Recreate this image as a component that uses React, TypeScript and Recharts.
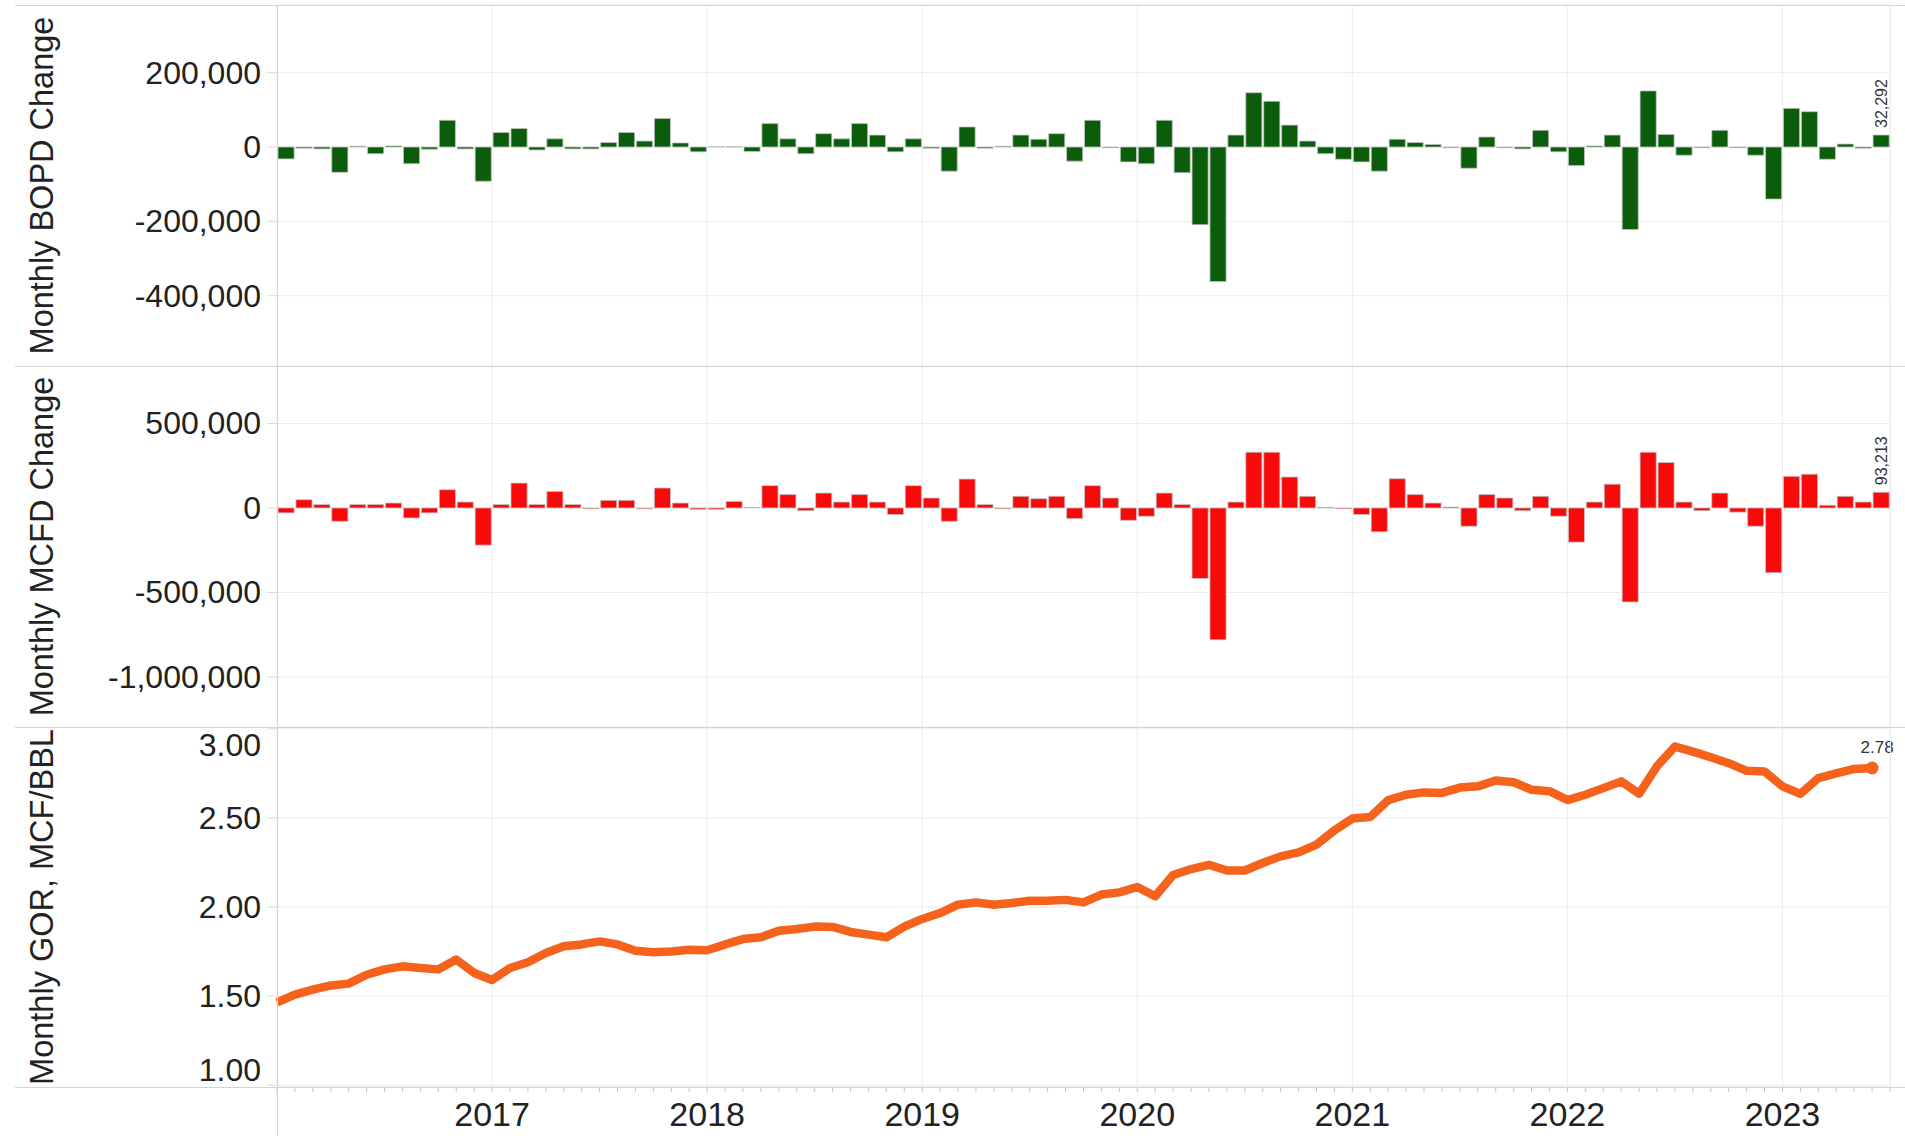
import React from 'react';
import { BarChart, Bar, LineChart, Line, XAxis, YAxis, CartesianGrid, LabelList } from 'recharts';

const FONT = 'Arial, "Liberation Sans", sans-serif';
const WIDTH = 1905;
const AXIS_W = 277;
const RIGHT = 15;
const MONTHS = 90; // Jan 2016 .. Jun 2023

const yearLabels = ['2017', '2018', '2019', '2020', '2021', '2022', '2023'];

const bopdTicks = [-400000, -200000, 0, 200000];
const mcfdTicks = [-1000000, -500000, 0, 500000];
const gorTicks = [1, 1.5, 2, 2.5, 3];

// monthly change in oil rate, barrels per day
const bopdChange = [
  -32000, -3000, -5000, -68000, 2000, -18000, 3000, -45000, -6000, 72000, -5000, -92000,
  39000, 50000, -8000, 22000, -5000, -5000, 12000, 39000, 16000, 77000, 11000, -13000,
  1000, 500, -12000, 63000, 22000, -18000, 36000, 22000, 63000, 32000, -13000, 22000,
  -3000, -65000, 54000, -3000, 2000, 32000, 21000, 36000, -38000, 72000, -2000, -40000,
  -45000, 72000, -69000, -209000, -362000, 32000, 146000, 123000, 59000, 16000, -18000, -33000,
  -40000, -65000, 21000, 12000, 7000, -2000, -57000, 27000, -2000, -5000, 45000, -13000,
  -50000, 3000, 32000, -222000, 151000, 34000, -22000, -2000, 45000, -2000, -22000, -140000,
  104000, 95000, -33000, 8000, -3000, 32292,
];

// monthly change in gas rate, mcf per day
const mcfdChange = [
  -29000, 49000, 20000, -79000, 20000, 20000, 29000, -59000, -29000, 108000, 35000, -220000,
  20000, 147000, 20000, 98000, 20000, -5000, 45000, 45000, -5000, 118000, 29000, -8000,
  -8000, 39000, 3000, 132000, 79000, -16000, 88000, 35000, 79000, 35000, -39000, 132000,
  59000, -79000, 171000, 20000, -5000, 69000, 55000, 69000, -63000, 132000, 59000, -73000,
  -49000, 88000, 20000, -417000, -780000, 35000, 330000, 330000, 183000, 69000, 4000, -5000,
  -39000, -141000, 173000, 79000, 29000, 5000, -108000, 79000, 59000, -16000, 69000, -49000,
  -202000, 35000, 141000, -556000, 330000, 269000, 35000, -16000, 88000, -25000, -108000, -383000,
  187000, 200000, 16000, 69000, 35000, 93213,
];

// gas-oil ratio, mcf/bbl
const gorMonthly = [
  1.465, 1.508, 1.536, 1.56, 1.57, 1.62, 1.65, 1.667, 1.658, 1.65, 1.705, 1.63,
  1.59, 1.658, 1.69, 1.742, 1.78, 1.79, 1.807, 1.79, 1.755, 1.746, 1.75, 1.76,
  1.757, 1.79, 1.82, 1.83, 1.867, 1.877, 1.89, 1.888, 1.86, 1.845, 1.83, 1.89,
  1.933, 1.966, 2.013, 2.026, 2.013, 2.022, 2.035, 2.035, 2.04, 2.026, 2.07, 2.082,
  2.112, 2.06, 2.18, 2.213, 2.237, 2.205, 2.205, 2.247, 2.284, 2.307, 2.35, 2.43,
  2.496, 2.505, 2.6, 2.63, 2.643, 2.64, 2.67, 2.677, 2.71, 2.7, 2.658, 2.65,
  2.6, 2.63, 2.667, 2.705, 2.635, 2.79, 2.9, 2.872, 2.84, 2.807, 2.764, 2.76,
  2.677, 2.635, 2.723, 2.75, 2.775, 2.78,
];

const yearTicks = yearLabels.map((_, k) => (k + 1) * 12);
const monthTicks = Array.from({ length: MONTHS + 1 }, (_, i) => i);
const LAST = MONTHS - 1;

// bars fill their month, the line sits on the month start
const barRows = bopdChange.map((v, i) => ({ x: i + 0.5, bopd: v, mcfd: mcfdChange[i] }));
const gorRows = gorMonthly.map((v, i) => ({ x: i, gor: v }));

const GREEN = '#0B5D0B';
const RED = '#F80A0A';
const ORANGE = '#F5621C';
const GRID = '#ececec';
const BORDER = '#d4d4d4';

function AxisTitle({ viewBox, text }: any) {
  const cy = viewBox.y + viewBox.height / 2;
  return (
    <text x={42} y={cy} transform={`rotate(-90 42 ${cy})`} textAnchor="middle" dominantBaseline="central"
      fontSize={32.5} fill="#222" fontFamily={FONT}>
      {text}
    </text>
  );
}

function ValueTick({ x, y, payload, digits, shifts }: any) {
  const v = payload.value;
  const label = digits ? v.toFixed(digits) : v.toLocaleString('en-US');
  const dy = shifts?.[String(v)] ?? 0;
  return (
    <text x={x} y={y + dy} textAnchor="end" dominantBaseline="central" fontSize={32} fill="#222" fontFamily={FONT}>
      {label}
    </text>
  );
}

function YearTick({ x, y, payload }: any) {
  const v = payload.value;
  if (v % 12 !== 0 || v === 0 || v >= MONTHS) return <g />;
  return (
    <text x={x} y={y} dy="0.72em" textAnchor="middle" fontSize={34} fill="#222" fontFamily={FONT}>
      {yearLabels[v / 12 - 1]}
    </text>
  );
}

function LastBarLabel({ x, y, width, value, index }: any) {
  if (index !== LAST) return null;
  const cx = x + width / 2;
  const top = y - 7;
  return (
    <text x={cx} y={top} transform={`rotate(-90 ${cx} ${top})`} textAnchor="start" dominantBaseline="central"
      fontSize={16} fill="#333" fontFamily={FONT}>
      {Number(value).toLocaleString('en-US')}
    </text>
  );
}

function ChangePanel({ top, height, marginTop, dataKey, color, domain, ticks, title }: any) {
  return (
    <div style={{ position: 'absolute', left: 0, top }}>
      <BarChart width={WIDTH} height={height} data={barRows}
        margin={{ top: marginTop, right: RIGHT, bottom: 0, left: 0 }}>
        <CartesianGrid stroke={GRID} />
        <XAxis type="number" dataKey="x" domain={[0, MONTHS]} ticks={yearTicks} height={0} hide />
        <YAxis type="number" domain={domain} ticks={ticks} allowDataOverflow width={AXIS_W}
          axisLine={false} tickLine={{ stroke: '#dcdcdc' }} tickSize={10} tickMargin={6}
          tick={<ValueTick />} interval={0}
          label={<AxisTitle text={title} />} />
        <Bar dataKey={dataKey} fill={color} stroke="#c4c4c4" strokeWidth={0.8} barSize={18} isAnimationActive={false}>
          <LabelList dataKey={dataKey} content={<LastBarLabel />} />
        </Bar>
      </BarChart>
    </div>
  );
}

function GorPanel() {
  const lastDot = (p: any) =>
    p.index === LAST
      ? <circle key={`d${p.index}`} cx={p.cx} cy={p.cy} r={6.5} fill={ORANGE} />
      : <g key={`d${p.index}`} />;
  const lastLabel = (p: any) =>
    p.index === LAST ? (
      <text x={p.x + 5} y={p.y - 15} textAnchor="middle" fontSize={17} fill="#333" fontFamily={FONT}>
        {Number(p.value).toFixed(2)}
      </text>
    ) : null;
  return (
    <div style={{ position: 'absolute', left: 0, top: 727 }}>
      <LineChart width={WIDTH} height={409} data={gorRows} margin={{ top: 0, right: RIGHT, bottom: 0, left: 0 }}>
        <CartesianGrid stroke={GRID} />
        <XAxis xAxisId="m" type="number" dataKey="x" domain={[0, MONTHS]} ticks={monthTicks} interval={0}
          height={49} axisLine={false} tickLine={{ stroke: '#c4c4c4' }} tickSize={5} tickMargin={10}
          tick={<YearTick />} />
        <XAxis type="number" dataKey="x" domain={[0, MONTHS]} ticks={yearTicks} height={0} hide />
        <YAxis type="number" domain={[0.99, 3.01]} ticks={gorTicks} allowDataOverflow width={AXIS_W}
          axisLine={false} tickLine={{ stroke: '#dcdcdc' }} tickSize={10} tickMargin={6} interval={0}
          tick={<ValueTick digits={2} shifts={{ '3': 16, '1': -15 }} />}
          label={<AxisTitle text="Monthly GOR, MCF/BBL" />} />
        <Line type="linear" dataKey="gor" stroke={ORANGE} strokeWidth={8.5} strokeLinejoin="round"
          dot={lastDot} activeDot={false} isAnimationActive={false}>
          <LabelList dataKey="gor" content={lastLabel} />
        </Line>
      </LineChart>
    </div>
  );
}

export default function App() {
  const hLine = (top: number) => (
    <div key={`h${top}`} style={{ position: 'absolute', left: 15, top, width: WIDTH - 15, height: 1, background: BORDER }} />
  );
  return (
    <div style={{ position: 'absolute', left: 0, top: 0, width: WIDTH, height: 1136, background: '#fff', fontFamily: FONT, overflow: 'hidden' }}>
      <ChangePanel top={0} height={366} marginTop={5} dataKey="bopd" color={GREEN}
        domain={[-589000, 382000]} ticks={bopdTicks} title="Monthly BOPD Change" />
      <ChangePanel top={366} height={361} marginTop={0} dataKey="mcfd" color={RED}
        domain={[-1296000, 840000]} ticks={mcfdTicks} title="Monthly MCFD Change" />
      <GorPanel />
      {[5, 366, 727, 1087].map(hLine)}
      <div style={{ position: 'absolute', left: AXIS_W, top: 5, width: 1, height: 1131, background: BORDER }} />
      <div style={{ position: 'absolute', left: WIDTH - RIGHT, top: 5, width: 1, height: 1082, background: '#ececec' }} />
    </div>
  );
}
